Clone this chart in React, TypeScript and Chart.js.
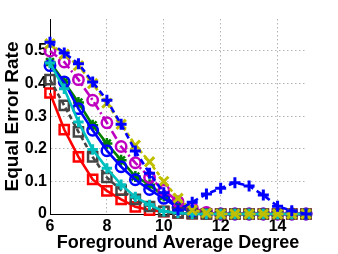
import React, { useEffect, useRef } from "react";
import { Chart, registerables } from "chart.js";

Chart.register(...registerables);

const degrees = [6, 6.5, 7, 7.5, 8, 8.5, 9, 9.5, 10, 10.5, 11, 11.5, 12, 12.5, 13, 13.5, 14, 14.5, 15];

const bluePlus = [0.527, 0.494, 0.461, 0.405, 0.349, 0.275, 0.193, 0.125, 0.065, 0.012, 0.036, 0.061, 0.079, 0.096, 0.086, 0.058, 0.024, 0.01, 0.0];
const yellowX = [0.522, 0.49, 0.455, 0.4, 0.34, 0.275, 0.211, 0.16, 0.1, 0.048, 0.012, 0.003, 0, 0, 0, 0, 0, 0, 0];
const magentaCircle = [0.5, 0.466, 0.412, 0.349, 0.28, 0.207, 0.157, 0.112, 0.073, 0.038, 0.018, 0.005, 0, 0, 0, 0, 0, 0, 0];
const greenStar = [0.466, 0.405, 0.342, 0.272, 0.216, 0.165, 0.115, 0.09, 0.055, 0.025, 0.01, 0.003, 0, 0, 0, 0, 0, 0, 0];
const blueCircle = [0.455, 0.405, 0.323, 0.257, 0.194, 0.145, 0.105, 0.075, 0.048, 0.02, 0.008, 0.003, 0, 0, 0, 0, 0, 0, 0];
const cyanPlus = [0.463, 0.384, 0.282, 0.198, 0.14, 0.09, 0.052, 0.028, 0.008, 0.003, 0, 0, 0, 0, 0, 0, 0, 0, 0];
const graySquare = [0.412, 0.333, 0.252, 0.175, 0.112, 0.073, 0.045, 0.023, 0.008, 0.003, 0.001, 0, 0, 0, 0, 0, 0, 0, 0];
const redSquare = [0.371, 0.259, 0.175, 0.106, 0.071, 0.045, 0.022, 0.012, 0.007, 0.003, 0.001, 0, 0, 0, 0, 0, 0, 0, 0];

const xTicks = [6, 8, 10, 12, 14];
const yTicks = [0, 0.1, 0.2, 0.3, 0.4, 0.5];

const FONT = "'Liberation Sans', Arial, Helvetica, sans-serif";

function series(values: number[], color: string, style: string, radius: number, dash: number[], order: number, pbw: number) {
  return {
    data: values.map((v, i) => ({ x: degrees[i], y: v })),
    borderColor: color,
    backgroundColor: "rgba(0,0,0,0)",
    borderWidth: 2.6,
    borderDash: dash,
    pointStyle: style,
    pointRadius: radius,
    pointBorderWidth: pbw,
    pointBorderColor: color,
    pointBackgroundColor: "rgba(0,0,0,0)",
    tension: 0,
    clip: false as any,
    order,
  };
}

export default function App() {
  const ref = useRef<HTMLCanvasElement>(null);
  useEffect(() => {
    document.body.style.margin = "0";
    const chart = new Chart(ref.current!, {
      type: "line",
      data: {
        datasets: [
          series(redSquare, "#ff0000", "rect", 6.5, [], 8, 2.5),
          series(greenStar, "#008000", "star", 5.5, [], 7, 2.5),
          series(blueCircle, "#0000ff", "circle", 5.2, [], 6, 2.5),
          series(magentaCircle, "#c000c0", "circle", 5.2, [9, 3, 2, 3], 5, 2.5),
          series(graySquare, "#444444", "rect", 6.5, [5, 3], 4, 2.5),
          series(cyanPlus, "#00bfbf", "cross", 5.2, [], 3, 3),
          series(yellowX, "#bfbf00", "crossRot", 6.6, [4, 3], 2, 3),
          series(bluePlus, "#0000ff", "cross", 5.5, [6, 4], 1, 3),
        ] as any,
      },
      options: {
        animation: false,
        responsive: false,
        layout: { padding: { top: 19, right: 32, left: 0, bottom: 0 } },
        plugins: { legend: { display: false }, tooltip: { enabled: false } },
        scales: {
          x: {
            type: "linear",
            min: 6,
            max: 15,
            afterFit: (s: any) => { s.height = 40; },
            afterBuildTicks: (s: any) => { s.ticks = xTicks.map((v) => ({ value: v })); },
            grid: { color: "#b4b4b4", lineWidth: 1, drawTicks: false },
            border: { color: "#000", width: 1, dash: [1.5, 2.5] },
            ticks: { color: "#000", padding: 3, font: { family: FONT, size: 16, weight: "bold" } },
            title: { display: true, text: "Foreground Average Degree", color: "#000", padding: { top: 0, bottom: 0 }, font: { family: FONT, size: 18, weight: "bold" } },
          },
          y: {
            type: "linear",
            min: 0,
            max: 0.598,
            afterFit: (s: any) => { s.width = 50; },
            afterBuildTicks: (s: any) => { s.ticks = yTicks.map((v) => ({ value: v })); },
            grid: { color: "#b4b4b4", lineWidth: 1, drawTicks: false },
            border: { color: "#000", width: 1, dash: [1.5, 2.5] },
            ticks: { color: "#000", padding: 3, font: { family: FONT, size: 16, weight: "bold" }, callback: (v: any) => String(Number(v)) },
            title: { display: true, text: "Equal Error Rate", color: "#000", padding: { top: 1, bottom: 0 }, font: { family: FONT, size: 19, weight: "bold" } },
          },
        },
      },
    });
    return () => chart.destroy();
  }, []);
  return (
    <div style={{ position: "fixed", left: 0, top: 0, width: 338, height: 254, background: "#fff" }}>
      <canvas ref={ref} width={338} height={254} />
    </div>
  );
}
